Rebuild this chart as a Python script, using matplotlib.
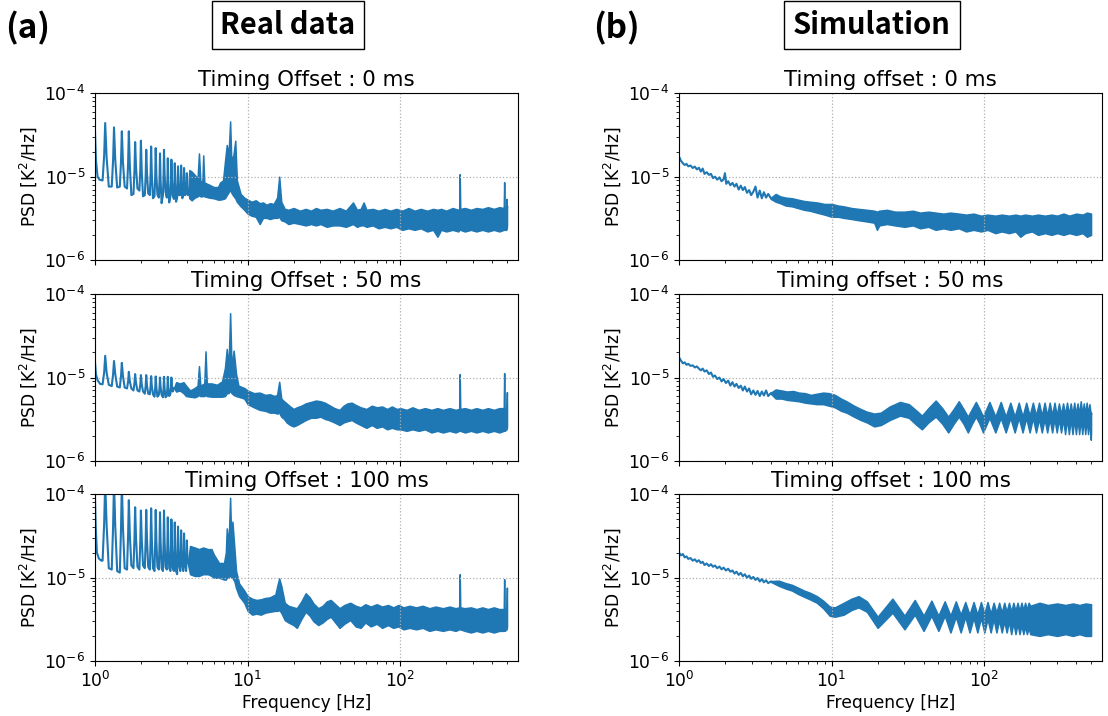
import matplotlib
matplotlib.use("Agg")
import matplotlib.pyplot as plt

LINE = "#1f77b4"

# ---------------------------------------------------------------
# Measured PSD, timing offset 0 ms
# low-frequency trace: comb of 1/6 Hz harmonics
real0_f = [1.00, 1.015, 1.04, 1.07, 1.122, 1.149, 1.167, 1.192, 1.232, 1.288, 1.315, 1.333,
           1.358, 1.398, 1.455, 1.482, 1.5, 1.525, 1.565, 1.622, 1.649, 1.667, 1.692, 1.732,
           1.788, 1.815, 1.833, 1.858, 1.898, 1.955, 1.982, 2.0, 2.025, 2.065, 2.122, 2.149,
           2.167, 2.192, 2.232, 2.288, 2.315, 2.333, 2.358, 2.398, 2.455, 2.482, 2.5, 2.525,
           2.565, 2.622, 2.649, 2.667, 2.692, 2.732, 2.788, 2.815, 2.833, 2.858, 2.898,
           2.955, 2.982, 3.0, 3.025, 3.065, 3.122, 3.149, 3.167, 3.192, 3.232, 3.288, 3.315,
           3.333, 3.358, 3.398, 3.455, 3.482, 3.5, 3.525, 3.565, 3.622, 3.649, 3.667, 3.692,
           3.732, 3.788, 3.815, 3.833, 3.858, 3.898, 3.955, 3.982, 4.0, 4.025, 4.065, 4.10]
real0_psd = [3.6e-5, 1.6e-5, 1.0e-5, 9.2e-6, 9.0e-6, 1.8e-5, 4.4e-5, 1.7e-5, 7.6e-6, 7.6e-6,
             1.6e-5, 3.9e-5, 1.6e-5, 7.4e-6, 7.6e-6, 1.55e-5, 3.5e-5, 1.5e-5, 7.6e-6, 7.2e-6,
             1.45e-5, 3.5e-5, 1.35e-5, 6.0e-6, 6.2e-6, 1.2e-5, 2.6e-5, 1.3e-5, 7.2e-6, 6.8e-6,
             1.25e-5, 2.7e-5, 1.15e-5, 5.8e-6, 6.0e-6, 1.05e-5, 2.1e-5, 1.1e-5, 6.3e-6, 6.0e-6,
             1.1e-5, 2.3e-5, 1.05e-5, 5.5e-6, 5.8e-6, 1.05e-5, 2.2e-5, 1.05e-5, 6.1e-6, 5.6e-6,
             9.5e-6, 1.9e-5, 9.0e-6, 4.8e-6, 6.0e-6, 1.05e-5, 2.1e-5, 1.1e-5, 6.6e-6, 5.6e-6,
             9.0e-6, 1.66e-5, 8.5e-6, 4.9e-6, 5.8e-6, 9.0e-6, 1.6e-5, 9.5e-6, 6.0e-6, 5.4e-6,
             8.5e-6, 1.45e-5, 8.5e-6, 5.0e-6, 5.6e-6, 8.5e-6, 1.33e-5, 8.5e-6, 6.0e-6, 6.0e-6,
             8.8e-6, 1.36e-5, 8.8e-6, 5.5e-6, 6.0e-6, 8.5e-6, 1.27e-5, 8.5e-6, 6.0e-6, 6.2e-6,
             8.0e-6, 1.1e-5, 8.0e-6, 6.0e-6, 7.0e-6]
# dense part: upper / lower envelope of the spectrum
real0_band_f = [4.10, 4.15, 4.3, 4.5, 4.7, 4.8, 4.9, 5.05, 5.12, 5.2, 5.6, 6.0, 6.4, 6.6, 6.9,
                7.1, 7.3, 7.5, 7.68, 7.8, 8.0, 8.3, 8.5, 9.0, 9.5, 10, 10.6, 11.3, 12.0, 12.6,
                13.3, 14.0, 14.8, 15.6, 16.1, 16.6, 17.5, 18.5, 20, 22, 24, 26, 28, 30, 33,
                36, 40, 44, 49, 52, 55, 57.5, 60, 66, 72, 79, 86, 94, 103, 113, 124, 136, 150,
                164, 175, 185, 200, 220, 240, 243, 245, 247, 265, 290, 315, 345, 375, 410,
                445, 476, 479, 482, 494, 496, 498, 500]
real0_band_hi = [7.0e-6, 1.2e-5, 1.15e-5, 1.05e-5, 9.5e-6, 1.9e-5, 9.0e-6, 8.5e-6, 1.8e-5,
                 8.5e-6, 8.0e-6, 7.5e-6, 7.5e-6, 8.5e-6, 9.0e-6, 1.5e-5, 2.4e-5, 1.8e-5,
                 4.6e-5, 1.8e-5, 1.6e-5, 2.7e-5, 9.0e-6, 6.2e-6, 5.6e-6, 5.3e-6, 5.0e-6,
                 5.2e-6, 4.8e-6, 4.9e-6, 4.6e-6, 4.8e-6, 4.7e-6, 5.6e-6, 1.0e-5, 5.0e-6,
                 4.1e-6, 4.0e-6, 4.2e-6, 3.9e-6, 4.1e-6, 3.9e-6, 4.2e-6, 4.0e-6, 4.1e-6,
                 3.9e-6, 4.2e-6, 3.9e-6, 4.9e-6, 4.0e-6, 4.1e-6, 4.9e-6, 4.0e-6, 4.1e-6,
                 3.9e-6, 4.1e-6, 3.9e-6, 4.1e-6, 3.9e-6, 4.2e-6, 3.9e-6, 4.1e-6, 3.9e-6,
                 4.1e-6, 4.0e-6, 4.1e-6, 3.9e-6, 4.2e-6, 4.0e-6, 4.1e-6, 1.07e-5, 4.1e-6,
                 4.2e-6, 4.0e-6, 4.2e-6, 4.1e-6, 4.3e-6, 4.1e-6, 4.3e-6, 4.2e-6, 8.6e-6,
                 4.2e-6, 4.3e-6, 5.4e-6, 4.3e-6, 4.5e-6]
real0_band_lo = [7.0e-6, 5.5e-6, 5.2e-6, 5.6e-6, 5.8e-6, 6.0e-6, 5.8e-6, 5.8e-6, 6.0e-6,
                 5.8e-6, 5.6e-6, 5.5e-6, 5.3e-6, 5.3e-6, 5.4e-6, 5.5e-6, 6.0e-6, 6.5e-6,
                 7.0e-6, 6.5e-6, 6.0e-6, 5.5e-6, 5.0e-6, 4.4e-6, 4.0e-6, 3.6e-6, 3.4e-6,
                 3.3e-6, 2.7e-6, 3.2e-6, 3.2e-6, 3.1e-6, 3.2e-6, 3.2e-6, 3.3e-6, 3.0e-6,
                 2.9e-6, 2.7e-6, 2.8e-6, 2.7e-6, 2.6e-6, 2.7e-6, 2.6e-6, 2.7e-6, 2.5e-6,
                 2.6e-6, 2.6e-6, 2.5e-6, 2.7e-6, 2.5e-6, 2.6e-6, 2.6e-6, 2.5e-6, 2.6e-6,
                 2.4e-6, 2.5e-6, 2.4e-6, 2.5e-6, 2.3e-6, 2.4e-6, 2.3e-6, 2.4e-6, 2.2e-6,
                 2.3e-6, 1.9e-6, 2.3e-6, 2.2e-6, 2.3e-6, 2.2e-6, 2.3e-6, 2.4e-6, 2.3e-6,
                 2.2e-6, 2.3e-6, 2.2e-6, 2.3e-6, 2.2e-6, 2.3e-6, 2.2e-6, 2.3e-6, 2.4e-6,
                 2.3e-6, 2.3e-6, 2.4e-6, 2.4e-6, 2.6e-6]

# ---------------------------------------------------------------
# Measured PSD, timing offset 50 ms
real50_f = [1.00, 1.015, 1.04, 1.08, 1.122, 1.149, 1.167, 1.192, 1.232, 1.288, 1.315, 1.333,
            1.358, 1.398, 1.455, 1.482, 1.5, 1.525, 1.565, 1.622, 1.649, 1.667, 1.692, 1.732,
            1.788, 1.815, 1.833, 1.858, 1.898, 1.955, 1.982, 2.0, 2.025, 2.065, 2.122, 2.149,
            2.167, 2.192, 2.232, 2.288, 2.315, 2.333, 2.358, 2.398, 2.455, 2.482, 2.5, 2.525,
            2.565, 2.622, 2.649, 2.667, 2.692, 2.732, 2.788, 2.815, 2.833, 2.858, 2.898,
            2.955, 2.982, 3.0, 3.025, 3.065, 3.122, 3.149, 3.167, 3.192, 3.232, 3.30]
real50_psd = [1.55e-5, 1.1e-5, 9.3e-6, 8.4e-6, 8.3e-6, 1.15e-5, 1.82e-5, 1.15e-5, 8.2e-6,
              7.9e-6, 1.1e-5, 1.58e-5, 1.1e-5, 7.8e-6, 7.6e-6, 1.05e-5, 1.5e-5, 1.05e-5,
              7.6e-6, 7.4e-6, 9.0e-6, 1.17e-5, 9.0e-6, 7.4e-6, 7.0e-6, 8.6e-6, 1.1e-5, 8.6e-6,
              7.0e-6, 6.8e-6, 8.3e-6, 1.07e-5, 8.3e-6, 6.8e-6, 6.4e-6, 8.0e-6, 1.07e-5,
              8.0e-6, 6.4e-6, 6.3e-6, 7.9e-6, 1.04e-5, 7.9e-6, 6.3e-6, 5.9e-6, 7.6e-6,
              1.03e-5, 7.6e-6, 5.9e-6, 6.2e-6, 7.7e-6, 1.0e-5, 7.7e-6, 6.2e-6, 5.8e-6,
              7.5e-6, 1.02e-5, 7.5e-6, 5.8e-6, 6.0e-6, 7.6e-6, 1.02e-5, 7.6e-6, 6.0e-6,
              6.4e-6, 7.8e-6, 1.0e-5, 7.8e-6, 6.8e-6, 7.5e-6]
real50_band_f = [3.30, 3.4, 3.6, 3.8, 3.95, 4.2, 4.5, 4.7, 4.8, 4.9, 5.2, 5.3, 5.4, 5.8, 6.3,
                 6.8, 7.1, 7.3, 7.5, 7.68, 7.85, 8.1, 8.4, 8.7, 9.5, 10, 11, 12, 13, 14, 15,
                 15.6, 16.1, 16.6, 17.3, 18, 19, 20, 21, 22.5, 24, 26, 28, 30, 32, 34, 37, 40,
                 42.5, 45, 48, 51, 55, 60, 65, 70, 76, 82, 88, 95, 100, 110, 120, 132, 145,
                 160, 175, 190, 210, 230, 243, 245, 247, 265, 290, 315, 345, 375, 410, 445,
                 476, 479, 482, 496, 499, 500]
real50_band_hi = [7.5e-6, 8.8e-6, 8.5e-6, 8.8e-6, 8.0e-6, 7.0e-6, 7.5e-6, 8.0e-6, 1.37e-5,
                  8.0e-6, 8.5e-6, 2.06e-5, 8.5e-6, 8.5e-6, 8.2e-6, 9.0e-6, 1.3e-5, 2.2e-5,
                  1.3e-5, 5.9e-5, 1.3e-5, 2.1e-5, 1.1e-5, 8.0e-6, 7.5e-6, 7.0e-6, 6.5e-6,
                  6.6e-6, 6.2e-6, 6.3e-6, 6.0e-6, 6.2e-6, 8.9e-6, 5.6e-6, 5.2e-6, 4.9e-6,
                  4.5e-6, 4.2e-6, 4.4e-6, 4.6e-6, 4.9e-6, 5.1e-6, 5.3e-6, 5.2e-6, 5.0e-6,
                  4.7e-6, 4.3e-6, 4.1e-6, 4.6e-6, 4.9e-6, 5.0e-6, 4.7e-6, 4.4e-6, 4.2e-6,
                  4.6e-6, 4.4e-6, 4.5e-6, 4.2e-6, 4.5e-6, 4.2e-6, 4.3e-6, 4.1e-6, 4.4e-6,
                  4.1e-6, 4.3e-6, 4.1e-6, 4.3e-6, 4.1e-6, 4.3e-6, 4.1e-6, 4.2e-6, 1.1e-5,
                  4.2e-6, 4.3e-6, 4.1e-6, 4.3e-6, 4.1e-6, 4.3e-6, 4.1e-6, 4.3e-6, 4.3e-6,
                  1.13e-5, 4.3e-6, 4.3e-6, 6.7e-6, 4.5e-6]
real50_band_lo = [7.5e-6, 6.8e-6, 7.0e-6, 6.5e-6, 6.0e-6, 5.9e-6, 5.8e-6, 6.0e-6, 6.2e-6,
                  6.0e-6, 6.0e-6, 6.2e-6, 6.0e-6, 5.9e-6, 5.9e-6, 5.9e-6, 6.0e-6, 6.5e-6,
                  6.5e-6, 7.0e-6, 6.5e-6, 6.2e-6, 6.0e-6, 5.9e-6, 5.6e-6, 4.8e-6, 4.4e-6,
                  4.1e-6, 4.0e-6, 3.8e-6, 3.8e-6, 3.7e-6, 3.8e-6, 3.4e-6, 3.2e-6, 2.9e-6,
                  2.7e-6, 2.6e-6, 2.7e-6, 2.9e-6, 3.1e-6, 3.3e-6, 3.3e-6, 3.4e-6, 3.2e-6,
                  3.1e-6, 2.9e-6, 2.7e-6, 2.9e-6, 3.0e-6, 3.1e-6, 2.9e-6, 2.7e-6, 2.5e-6,
                  2.7e-6, 2.5e-6, 2.6e-6, 2.4e-6, 2.5e-6, 2.4e-6, 2.4e-6, 2.3e-6, 2.4e-6,
                  2.3e-6, 2.4e-6, 2.2e-6, 2.3e-6, 2.2e-6, 2.3e-6, 2.2e-6, 2.3e-6, 2.4e-6,
                  2.3e-6, 2.2e-6, 2.3e-6, 2.2e-6, 2.3e-6, 2.2e-6, 2.3e-6, 2.2e-6, 2.3e-6,
                  2.4e-6, 2.3e-6, 2.4e-6, 2.5e-6, 2.6e-6]

# ---------------------------------------------------------------
# Measured PSD, timing offset 100 ms
real100_f = [1.00, 1.012, 1.03, 1.06, 1.10, 1.122, 1.149, 1.167, 1.192, 1.232, 1.288, 1.315,
             1.333, 1.358, 1.398, 1.455, 1.482, 1.5, 1.525, 1.565, 1.622, 1.649, 1.667, 1.692,
             1.732, 1.788, 1.815, 1.833, 1.858, 1.898, 1.955, 1.982, 2.0, 2.025, 2.065, 2.122,
             2.149, 2.167, 2.192, 2.232, 2.288, 2.315, 2.333, 2.358, 2.398, 2.455, 2.482, 2.5,
             2.525, 2.565, 2.622, 2.649, 2.667, 2.692, 2.732, 2.788, 2.815, 2.833, 2.858,
             2.898, 2.955, 2.982, 3.0, 3.025, 3.065, 3.122, 3.149, 3.167, 3.192, 3.232, 3.288,
             3.315, 3.333, 3.358, 3.398, 3.455, 3.482, 3.5, 3.525, 3.565, 3.622, 3.649, 3.667,
             3.692, 3.732, 3.788, 3.815, 3.833, 3.858, 3.898, 3.955, 3.982, 4.0, 4.025, 4.05]
real100_psd = [9.5e-5, 4.0e-5, 2.0e-5, 1.7e-5, 1.6e-5, 1.6e-5, 4.5e-5, 1.4e-4, 4.3e-5, 1.3e-5,
               1.25e-5, 4.2e-5, 1.4e-4, 4.2e-5, 1.2e-5, 1.15e-5, 4.0e-5, 1.4e-4, 4.1e-5,
               1.3e-5, 1.25e-5, 3.3e-5, 8.5e-5, 3.3e-5, 1.4e-5, 1.3e-5, 3.0e-5, 7.0e-5, 3.0e-5,
               1.35e-5, 1.25e-5, 2.8e-5, 6.4e-5, 2.9e-5, 1.4e-5, 1.3e-5, 2.9e-5, 6.5e-5,
               2.9e-5, 1.35e-5, 1.25e-5, 2.9e-5, 6.8e-5, 2.9e-5, 1.3e-5, 1.2e-5, 2.8e-5,
               6.5e-5, 2.8e-5, 1.35e-5, 1.25e-5, 2.7e-5, 6.1e-5, 2.7e-5, 1.3e-5, 1.2e-5,
               2.8e-5, 6.4e-5, 2.8e-5, 1.35e-5, 1.25e-5, 2.6e-5, 5.3e-5, 2.6e-5, 1.3e-5,
               1.2e-5, 2.4e-5, 5.0e-5, 2.5e-5, 1.3e-5, 1.2e-5, 2.3e-5, 4.6e-5, 2.3e-5, 1.2e-5,
               1.1e-5, 2.1e-5, 4.1e-5, 2.2e-5, 1.4e-5, 1.2e-5, 2.1e-5, 3.7e-5, 2.1e-5, 1.4e-5,
               1.2e-5, 2.0e-5, 3.4e-5, 2.0e-5, 1.4e-5, 1.2e-5, 1.8e-5, 2.8e-5, 1.9e-5, 1.5e-5]
real100_band_f = [4.05, 4.2, 4.5, 4.8, 5.1, 5.5, 5.8, 6.0, 6.5, 7.0, 7.2, 7.3, 7.5, 7.68, 7.8,
                  7.95, 8.2, 8.4, 8.8, 9.5, 10, 10.7, 11.4, 12.2, 13, 14, 15.2, 15.7, 16.1,
                  16.6, 17.5, 18.5, 20, 21, 22.5, 24, 25.5, 27, 29, 31, 33, 35, 37.5, 40, 43,
                  47, 51, 55, 59, 64, 70, 76, 83, 90, 97, 105, 115, 127, 140, 155, 170, 190,
                  210, 230, 243, 245, 247, 265, 290, 315, 345, 375, 410, 445, 476, 479, 482,
                  496, 499, 500]
real100_band_hi = [1.5e-5, 2.4e-5, 2.3e-5, 2.2e-5, 2.3e-5, 2.2e-5, 2.2e-5, 1.9e-5, 1.5e-5,
                   1.5e-5, 2.0e-5, 3.9e-5, 2.5e-5, 9.1e-5, 3.0e-5, 4.7e-5, 2.2e-5, 1.2e-5,
                   8.5e-6, 7.0e-6, 6.0e-6, 5.6e-6, 5.4e-6, 5.5e-6, 5.7e-6, 5.8e-6, 6.3e-6,
                   8.2e-6, 9.8e-6, 8.0e-6, 5.0e-6, 4.6e-6, 4.4e-6, 4.3e-6, 5.2e-6, 6.5e-6,
                   5.8e-6, 4.9e-6, 4.3e-6, 4.6e-6, 5.2e-6, 5.4e-6, 4.8e-6, 4.3e-6, 4.7e-6,
                   5.0e-6, 4.6e-6, 4.4e-6, 4.8e-6, 4.5e-6, 4.8e-6, 4.5e-6, 4.7e-6, 4.4e-6,
                   4.7e-6, 4.4e-6, 4.6e-6, 4.4e-6, 4.6e-6, 4.3e-6, 4.5e-6, 4.3e-6, 4.5e-6,
                   4.3e-6, 4.4e-6, 1.1e-5, 4.4e-6, 4.3e-6, 4.4e-6, 4.2e-6, 4.4e-6, 4.2e-6,
                   4.4e-6, 4.2e-6, 4.2e-6, 9.6e-6, 4.2e-6, 4.3e-6, 7.6e-6, 4.5e-6]
real100_band_lo = [1.5e-5, 1.1e-5, 1.05e-5, 1.05e-5, 1.1e-5, 1.1e-5, 1.05e-5, 1.0e-5, 1.0e-5,
                   9.5e-6, 9.5e-6, 1.0e-5, 1.0e-5, 1.1e-5, 1.0e-5, 1.0e-5, 9.0e-6, 7.5e-6,
                   6.0e-6, 5.0e-6, 4.0e-6, 3.6e-6, 3.7e-6, 3.6e-6, 3.8e-6, 3.9e-6, 4.0e-6,
                   4.0e-6, 4.1e-6, 3.8e-6, 3.1e-6, 2.9e-6, 2.7e-6, 2.5e-6, 3.2e-6, 3.9e-6,
                   3.5e-6, 3.0e-6, 2.7e-6, 2.9e-6, 3.2e-6, 3.4e-6, 2.9e-6, 2.5e-6, 2.8e-6,
                   3.1e-6, 2.6e-6, 2.5e-6, 2.9e-6, 2.6e-6, 2.8e-6, 2.5e-6, 2.7e-6, 2.5e-6,
                   2.6e-6, 2.4e-6, 2.5e-6, 2.4e-6, 2.5e-6, 2.3e-6, 2.4e-6, 2.3e-6, 2.4e-6,
                   2.3e-6, 2.4e-6, 2.5e-6, 2.4e-6, 2.3e-6, 2.2e-6, 2.3e-6, 2.2e-6, 2.3e-6,
                   2.2e-6, 2.3e-6, 2.3e-6, 2.4e-6, 2.3e-6, 2.4e-6, 2.5e-6, 2.6e-6]

# ---------------------------------------------------------------
# Simulated PSD, timing offset 0 ms
sim0_f = [1.00, 1.03, 1.06, 1.09, 1.12, 1.15, 1.19, 1.23, 1.27, 1.31, 1.35, 1.39, 1.43, 1.47,
          1.52, 1.57, 1.62, 1.67, 1.72, 1.78, 1.84, 1.90, 1.96, 2.00, 2.04, 2.10, 2.17, 2.24,
          2.31, 2.38, 2.46, 2.54, 2.62, 2.70, 2.79, 2.88, 2.97, 3.07, 3.17, 3.27, 3.38, 3.49,
          3.60, 3.72, 3.84, 4.0]
sim0_psd = [1.75e-5, 1.55e-5, 1.45e-5, 1.38e-5, 1.42e-5, 1.33e-5, 1.36e-5, 1.27e-5, 1.32e-5,
            1.22e-5, 1.28e-5, 1.15e-5, 1.25e-5, 1.08e-5, 1.13e-5, 1.05e-5, 1.08e-5, 9.6e-6,
            1.0e-5, 9.2e-6, 9.8e-6, 8.8e-6, 9.3e-6, 1.1e-5, 8.2e-6, 8.8e-6, 7.9e-6, 8.4e-6,
            7.6e-6, 8.2e-6, 7.0e-6, 7.8e-6, 6.9e-6, 7.5e-6, 6.4e-6, 6.9e-6, 6.0e-6, 6.6e-6,
            7.6e-6, 5.6e-6, 6.8e-6, 5.5e-6, 6.5e-6, 5.6e-6, 6.2e-6, 5.5e-6]
sim0_band_f = [4.0, 4.3, 4.6, 5.0, 5.5, 6.0, 6.6, 7.2, 8.0, 9.0, 10, 11, 12, 13.5, 15, 17, 19,
               19.8, 20.5, 23, 26, 30, 34, 38, 43, 48, 54, 60, 68, 76, 85, 95, 105, 118, 130,
               145, 160, 172, 185, 205, 225, 250, 275, 300, 330, 360, 400, 440, 470, 500]
sim0_band_hi = [5.6e-6, 6.2e-6, 5.8e-6, 5.6e-6, 5.5e-6, 5.3e-6, 5.1e-6, 5.0e-6, 4.9e-6,
                4.7e-6, 4.7e-6, 4.5e-6, 4.4e-6, 4.2e-6, 4.1e-6, 4.0e-6, 3.9e-6, 3.8e-6,
                3.9e-6, 4.0e-6, 3.8e-6, 3.8e-6, 3.9e-6, 3.7e-6, 3.8e-6, 3.7e-6, 3.6e-6,
                3.7e-6, 3.6e-6, 3.5e-6, 3.6e-6, 3.4e-6, 3.5e-6, 3.4e-6, 3.5e-6, 3.4e-6,
                3.5e-6, 3.4e-6, 3.5e-6, 3.4e-6, 3.5e-6, 3.4e-6, 3.5e-6, 3.4e-6, 3.6e-6,
                3.4e-6, 3.6e-6, 3.5e-6, 3.7e-6, 3.6e-6]
sim0_band_lo = [5.4e-6, 5.0e-6, 4.8e-6, 4.5e-6, 4.4e-6, 4.2e-6, 4.0e-6, 3.9e-6, 3.7e-6,
                3.5e-6, 3.3e-6, 3.3e-6, 3.2e-6, 3.1e-6, 3.0e-6, 2.9e-6, 2.8e-6, 2.3e-6,
                2.6e-6, 2.7e-6, 2.6e-6, 2.5e-6, 2.6e-6, 2.4e-6, 2.5e-6, 2.3e-6, 2.4e-6,
                2.3e-6, 2.4e-6, 2.2e-6, 2.3e-6, 2.2e-6, 2.3e-6, 2.1e-6, 2.2e-6, 2.1e-6,
                2.2e-6, 1.9e-6, 2.1e-6, 2.2e-6, 2.0e-6, 2.1e-6, 2.0e-6, 2.1e-6, 2.0e-6,
                2.1e-6, 2.0e-6, 2.1e-6, 1.9e-6, 2.0e-6]

# ---------------------------------------------------------------
# Simulated PSD, timing offset 50 ms (20 Hz ripple)
sim50_f = [1.00, 1.03, 1.06, 1.09, 1.12, 1.15, 1.19, 1.23, 1.27, 1.31, 1.35, 1.39, 1.43, 1.47,
           1.52, 1.57, 1.62, 1.67, 1.72, 1.78, 1.84, 1.90, 1.96, 2.03, 2.10, 2.17, 2.24, 2.31,
           2.38, 2.46, 2.54, 2.62, 2.70, 2.79, 2.88, 2.97, 3.07, 3.17, 3.27, 3.38, 3.49, 3.60,
           3.72, 3.84, 4.0]
sim50_psd = [1.75e-5, 1.6e-5, 1.48e-5, 1.52e-5, 1.42e-5, 1.46e-5, 1.38e-5, 1.4e-5, 1.32e-5,
             1.36e-5, 1.28e-5, 1.22e-5, 1.28e-5, 1.18e-5, 1.22e-5, 1.1e-5, 1.15e-5, 1.02e-5,
             1.06e-5, 9.6e-6, 1.0e-5, 9.0e-6, 9.6e-6, 8.6e-6, 9.2e-6, 8.0e-6, 8.8e-6, 7.8e-6,
             8.4e-6, 7.5e-6, 8.0e-6, 7.0e-6, 7.8e-6, 6.8e-6, 7.4e-6, 6.3e-6, 7.0e-6, 6.2e-6,
             6.9e-6, 6.0e-6, 6.8e-6, 6.1e-6, 7.0e-6, 6.0e-6, 6.5e-6]
sim50_band_f = [4.0, 4.3, 4.7, 5.1, 5.6, 6.1, 6.7, 7.3, 8.0, 8.8, 9.6, 10.5, 11.5, 12.5, 14,
                15.5, 17, 19, 21, 24, 28, 32, 36, 39, 43, 48, 53, 58, 63, 68, 73, 78, 83, 88,
                93, 98, 108, 118, 128, 138, 148, 158, 168, 178, 188, 198, 208, 218, 228, 238,
                248, 258, 268, 278, 288, 298, 308, 318, 328, 338, 348, 358, 368, 378, 388,
                398, 408, 418, 428, 438, 448, 458, 468, 478, 488, 498, 500]
sim50_band_hi = [6.6e-6, 7.2e-6, 7.0e-6, 6.8e-6, 6.9e-6, 6.6e-6, 6.5e-6, 6.2e-6, 6.4e-6,
                 6.6e-6, 6.5e-6, 6.2e-6, 5.6e-6, 5.2e-6, 4.6e-6, 4.2e-6, 3.9e-6, 3.7e-6,
                 3.8e-6, 4.5e-6, 5.1e-6, 4.8e-6, 4.0e-6, 3.5e-6, 4.3e-6, 5.3e-6, 4.3e-6,
                 3.4e-6, 4.2e-6, 5.2e-6, 4.2e-6, 3.4e-6, 4.2e-6, 5.1e-6, 4.2e-6, 3.4e-6,
                 5.1e-6, 3.4e-6, 5.1e-6, 3.4e-6, 5.0e-6, 3.4e-6, 5.0e-6, 3.4e-6, 5.0e-6,
                 3.5e-6, 5.0e-6, 3.5e-6, 5.0e-6, 3.5e-6, 5.0e-6, 3.5e-6, 5.0e-6, 3.5e-6,
                 5.0e-6, 3.5e-6, 4.9e-6, 3.6e-6, 4.9e-6, 3.6e-6, 5.0e-6, 3.6e-6, 4.9e-6,
                 3.6e-6, 5.0e-6, 3.6e-6, 4.9e-6, 3.6e-6, 5.2e-6, 3.6e-6, 4.9e-6, 3.6e-6,
                 5.0e-6, 3.6e-6, 4.8e-6, 3.6e-6, 3.8e-6]
sim50_band_lo = [6.4e-6, 5.6e-6, 5.6e-6, 5.4e-6, 5.3e-6, 5.2e-6, 5.0e-6, 4.9e-6, 4.8e-6,
                 4.8e-6, 4.6e-6, 4.4e-6, 4.0e-6, 3.8e-6, 3.4e-6, 3.1e-6, 2.9e-6, 2.6e-6,
                 2.7e-6, 3.1e-6, 3.5e-6, 3.3e-6, 2.7e-6, 2.4e-6, 2.9e-6, 3.4e-6, 2.8e-6,
                 2.2e-6, 2.8e-6, 3.4e-6, 2.8e-6, 2.2e-6, 2.8e-6, 3.4e-6, 2.8e-6, 2.2e-6,
                 3.3e-6, 2.2e-6, 3.3e-6, 2.2e-6, 3.3e-6, 2.2e-6, 3.3e-6, 2.2e-6, 3.3e-6,
                 2.2e-6, 3.3e-6, 2.2e-6, 3.2e-6, 2.2e-6, 3.2e-6, 2.2e-6, 3.2e-6, 2.2e-6,
                 3.2e-6, 2.2e-6, 3.2e-6, 2.2e-6, 3.2e-6, 2.1e-6, 3.2e-6, 2.1e-6, 3.2e-6,
                 2.1e-6, 3.2e-6, 2.1e-6, 3.2e-6, 2.1e-6, 3.2e-6, 2.1e-6, 3.2e-6, 2.1e-6,
                 3.2e-6, 2.1e-6, 3.1e-6, 1.8e-6, 2.2e-6]

# ---------------------------------------------------------------
# Simulated PSD, timing offset 100 ms (10 Hz ripple)
sim100_f = [1.00, 1.03, 1.06, 1.09, 1.12, 1.15, 1.19, 1.23, 1.27, 1.31, 1.35, 1.39, 1.43,
            1.47, 1.52, 1.57, 1.62, 1.67, 1.72, 1.78, 1.84, 1.90, 1.96, 2.03, 2.10, 2.17,
            2.24, 2.31, 2.38, 2.46, 2.54, 2.62, 2.70, 2.79, 2.88, 2.97, 3.07, 3.17, 3.27,
            3.38, 3.49, 3.60, 3.72, 3.84, 4.0]
sim100_psd = [2.0e-5, 1.85e-5, 1.92e-5, 1.75e-5, 1.8e-5, 1.68e-5, 1.72e-5, 1.6e-5, 1.66e-5,
              1.55e-5, 1.62e-5, 1.5e-5, 1.55e-5, 1.42e-5, 1.48e-5, 1.38e-5, 1.45e-5, 1.35e-5,
              1.4e-5, 1.3e-5, 1.36e-5, 1.26e-5, 1.32e-5, 1.22e-5, 1.28e-5, 1.18e-5, 1.22e-5,
              1.12e-5, 1.18e-5, 1.08e-5, 1.14e-5, 1.04e-5, 1.1e-5, 1.0e-5, 1.06e-5, 9.7e-6,
              1.02e-5, 9.4e-6, 9.9e-6, 9.0e-6, 9.6e-6, 8.8e-6, 9.3e-6, 8.6e-6, 9.0e-6]
sim100_band_f = [4.0, 4.5, 5.0, 5.5, 6.0, 6.6, 7.2, 8.0, 8.8, 9.7, 10.5, 12, 13.5, 15, 17, 20,
                 25, 30, 35, 40, 45, 50, 55, 60, 65, 70, 75, 80, 85, 90, 95, 100, 105, 110,
                 115, 120, 125, 130, 135, 140, 145, 150, 155, 160, 165, 170, 175, 180, 185,
                 190, 195, 200, 230, 260, 300, 340, 380, 420, 460, 500]
sim100_band_hi = [9.1e-6, 9.2e-6, 8.6e-6, 8.2e-6, 7.6e-6, 7.0e-6, 6.6e-6, 6.0e-6, 5.3e-6,
                  4.5e-6, 4.4e-6, 5.0e-6, 5.6e-6, 6.0e-6, 5.2e-6, 3.4e-6, 5.6e-6, 3.5e-6,
                  5.4e-6, 3.5e-6, 5.3e-6, 3.5e-6, 5.2e-6, 3.5e-6, 5.2e-6, 3.6e-6, 5.1e-6,
                  3.6e-6, 5.1e-6, 3.6e-6, 5.1e-6, 3.7e-6, 5.1e-6, 3.7e-6, 5.0e-6, 3.8e-6,
                  5.0e-6, 3.8e-6, 5.0e-6, 3.9e-6, 5.0e-6, 3.9e-6, 5.0e-6, 4.0e-6, 5.0e-6,
                  4.0e-6, 5.0e-6, 4.1e-6, 5.0e-6, 4.1e-6, 5.0e-6, 4.6e-6, 5.0e-6, 4.7e-6,
                  4.9e-6, 4.7e-6, 4.9e-6, 4.7e-6, 4.9e-6, 4.8e-6]
sim100_band_lo = [8.9e-6, 8.0e-6, 7.4e-6, 7.0e-6, 6.4e-6, 5.9e-6, 5.5e-6, 5.0e-6, 4.3e-6,
                  3.5e-6, 3.4e-6, 3.6e-6, 4.1e-6, 4.4e-6, 3.9e-6, 2.5e-6, 3.8e-6, 2.4e-6,
                  3.6e-6, 2.3e-6, 3.5e-6, 2.3e-6, 3.5e-6, 2.2e-6, 3.4e-6, 2.2e-6, 3.4e-6,
                  2.2e-6, 3.3e-6, 2.2e-6, 3.3e-6, 2.2e-6, 3.2e-6, 2.2e-6, 3.2e-6, 2.2e-6,
                  3.1e-6, 2.2e-6, 3.0e-6, 2.2e-6, 3.0e-6, 2.1e-6, 2.9e-6, 2.1e-6, 2.8e-6,
                  2.1e-6, 2.7e-6, 2.1e-6, 2.6e-6, 2.1e-6, 2.5e-6, 2.1e-6, 2.0e-6, 2.1e-6,
                  2.0e-6, 2.1e-6, 2.0e-6, 2.1e-6, 2.0e-6, 2.0e-6]

offsets_ms = [0, 50, 100]
real_series = [
    (real0_f, real0_psd, real0_band_f, real0_band_lo, real0_band_hi),
    (real50_f, real50_psd, real50_band_f, real50_band_lo, real50_band_hi),
    (real100_f, real100_psd, real100_band_f, real100_band_lo, real100_band_hi),
]
sim_series = [
    (sim0_f, sim0_psd, sim0_band_f, sim0_band_lo, sim0_band_hi),
    (sim50_f, sim50_psd, sim50_band_f, sim50_band_lo, sim50_band_hi),
    (sim100_f, sim100_psd, sim100_band_f, sim100_band_lo, sim100_band_hi),
]

plt.rcParams["font.family"] = ["DejaVu Sans"]
fig = plt.figure(figsize=(11.08, 7.16), dpi=100)

col_left = [0.0857, 0.6128]
col_width = 0.3818
rows = [(0.6369, 0.2328), (0.3561, 0.2332), (0.0768, 0.2328)]

columns = [(real_series, "Timing Offset : {} ms"), (sim_series, "Timing offset : {} ms")]

for ci, (series, title_fmt) in enumerate(columns):
    for ri, (bottom, height) in enumerate(rows):
        ax = fig.add_axes([col_left[ci], bottom, col_width, height])
        f, p, bf, blo, bhi = series[ri]
        ax.plot(f, p, color=LINE, lw=1.5)
        ax.fill_between(bf, blo, bhi, color=LINE, lw=1.1)
        ax.set_xscale("log")
        ax.set_yscale("log")
        ax.set_xlim(1, 590)
        ax.set_ylim(1e-6, 1e-4)
        ax.grid(True, which="major", linestyle=":", color="#b0b0b0", lw=0.9)
        ax.set_title(title_fmt.format(offsets_ms[ri]), fontsize=15.4, pad=5)
        ax.set_ylabel("PSD [K$^2$/Hz]", fontsize=12.3)
        ax.tick_params(axis="both", which="major", labelsize=12.3)
        if ri < 2:
            ax.tick_params(labelbottom=False)
        else:
            ax.set_xlabel("Frequency [Hz]", fontsize=12.3, labelpad=2)

head_font = "Noto Sans CJK JP"
fig.text(28 / 1108, 1 - 28 / 716, "(a)", fontsize=24, fontweight="bold",
         family=head_font, ha="center", va="center")
fig.text(616 / 1108, 1 - 28 / 716, "(b)", fontsize=24, fontweight="bold",
         family=head_font, ha="center", va="center")
box = dict(boxstyle="square,pad=0.3", fc="white", ec="black", lw=1.0)
fig.text(288 / 1108, 1 - 25 / 716, "Real data", fontsize=21, fontweight="bold",
         family=head_font, ha="center", va="center", bbox=box)
fig.text(872 / 1108, 1 - 25 / 716, "Simulation", fontsize=21, fontweight="bold",
         family=head_font, ha="center", va="center", bbox=box)

fig.savefig("out.png", dpi=100)
